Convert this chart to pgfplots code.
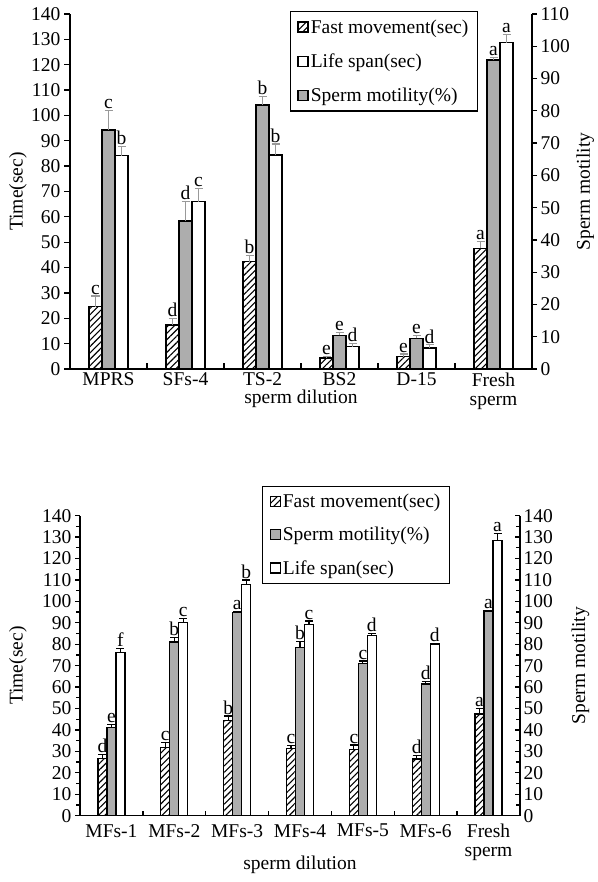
\documentclass[border=0pt]{standalone}
\usepackage{pgfplots}
\pgfplotsset{compat=1.18}
\usepackage{pgfplotstable}
\usepackage{fontspec}
\setmainfont{Liberation Serif}
\usetikzlibrary{patterns.meta}
\newcommand\fs{\fontsize{19.5bp}{19bp}\selectfont}

\pgfplotstableread{
x f fe fl m me ml l le ll
0 24.6 4.2 c 74.1 5.9 c 84.1 3.6 b
1 17.4 2.6 d 45.9 6.0 d 66.0 5.3 c
2 42.3 2.4 b 81.8 2.6 b 84.4 4.3 b
3 4.3 0.6 e 10.4 1.0 e 8.8 1.3 d
4 4.9 1.0 e 9.5 1.0 e 8.2 1.3 d
5 47.6 2.6 a 95.8 0.6 a 128.7 3.3 a
}\topdata

\pgfplotstableread{
x f fe fl m me ml l le ll
0 26.8 1.8 d 41.2 1.4 e 76.2 1.9 f
1 31.9 2.3 c 81.1 2.1 b 90.1 2.0 c
2 44.3 2.2 b 94.7 0.5 a 108.0 2.0 b
3 31.4 1.5 c 78.6 2.6 b 89.1 1.8 c
4 31.0 2.0 c 71.1 1.1 c 84.2 0.9 d
5 26.5 1.5 d 61.5 1.0 d 80.1 0.4 d
6 47.5 2.6 a 95.5 0.3 a 128.3 3.5 a
}\botdata

\tikzset{
  fastbar/.style={fill=white, draw=black, line width=1.5bp,
     postaction={pattern={Lines[angle=45,distance=4.5bp,line width=1.1bp]}}},
  motbar/.style={fill=black!32, draw=black, line width=1.5bp},
  lifebar/.style={fill=white, draw=black, line width=1.5bp},
}
\pgfplotsset{
  sq legend/.style={legend image code/.code={\draw[##1] (0bp,-5bp) rectangle (10bp,5bp);}},
  common/.style={
    scale only axis, font=\fs,
    /pgf/number format/assume math mode=true,
    tick label style={font=\fs},
    label style={font=\fs},
    axis line style={line width=1.3bp, black},
    every tick/.style={black, line width=1.3bp},
    ybar,
  },
  lab/.style={draw=none, fill=none, forget plot, nodes near coords,
    point meta=explicit symbolic,
    every node near coord/.append style={anchor=south, inner sep=1.5bp, font=\fs, black}},
}

\begin{document}
\begin{tikzpicture}[x=1bp,y=1bp]
\useasboundingbox (0,0) rectangle (598,882);

% ===== TOP PANEL =====
\begin{axis}[common,
  at={(70bp,513bp)}, anchor=south west, width=462bp, height=355bp,
  xmin=-0.5, xmax=5.5, ymin=0, ymax=140,
  axis x line*=bottom, axis y line*=left,
  ytick={0,10,...,140}, tick align=outside, major tick length=6bp,
  xtick={0,...,5},
  xticklabels={MPRS,SFs-4,TS-2,BS2,D-15,{Fresh\\sperm}},
  xticklabel style={align=center, anchor=north, yshift=6bp},
  major x tick style={draw=none},
  bar width=13bp,
  ylabel={Time(sec)},
  ylabel style={at={(axis description cs:-0.1126,0.5)}, anchor=center},
  xlabel={sperm dilution},
  xlabel style={at={(axis description cs:0.5,-0.0835)}, anchor=center},
  error bars/error bar style={gray!80, line width=1.2bp},
  error bars/error mark options={rotate=90, mark size=4bp, gray!80, line width=1.2bp},
]
\addplot[fastbar, bar shift=-13bp, error bars/.cd, y dir=plus, y explicit]
  table[x=x, y=f, y error=fe] {\topdata};
\addplot[lifebar, bar shift=13bp, error bars/.cd, y dir=plus, y explicit]
  table[x=x, y=l, y error=le] {\topdata};
\addplot[lab, bar shift=-13bp] table[x=x, y expr=\thisrow{f}+\thisrow{fe}, meta=fl] {\topdata};
\addplot[lab, bar shift=13bp] table[x=x, y expr=\thisrow{l}+\thisrow{le}, meta=ll] {\topdata};
\end{axis}

\begin{axis}[common,
  at={(70bp,513bp)}, anchor=south west, width=462bp, height=355bp,
  xmin=-0.5, xmax=5.5, ymin=0, ymax=110,
  axis x line=none, axis y line*=right,
  ytick={0,10,...,110}, tick align=outside, major tick length=5bp,
  bar width=13bp,
  ylabel={Sperm motility},
  ylabel style={at={(axis description cs:1.115,0.5)}, anchor=center, rotate=0},
  error bars/error bar style={gray!80, line width=1.2bp},
  error bars/error mark options={rotate=90, mark size=4bp, gray!80, line width=1.2bp},
  legend style={at={(0.883,1.008)}, anchor=north east, draw=black, line width=1.2bp,
    font=\fs, row sep=15bp, inner xsep=7bp, inner ysep=6bp},
  legend cell align=left,
]
\addlegendimage{fastbar, sq legend}
\addlegendentry{Fast movement(sec)}
\addlegendimage{lifebar, sq legend}
\addlegendentry{Life span(sec)}
\addplot[motbar, sq legend, bar shift=0bp, error bars/.cd, y dir=plus, y explicit]
  table[x=x, y=m, y error=me] {\topdata};
\addlegendentry{Sperm motility(\%)}
\addplot[lab, bar shift=0bp] table[x=x, y expr=\thisrow{m}+\thisrow{me}, meta=ml] {\topdata};
\end{axis}

\begin{axis}[common,
  at={(70bp,513bp)}, anchor=south west, width=462bp, height=355bp,
  xmin=-0.5, xmax=5.5, ymin=0, ymax=140,
  axis x line*=bottom, axis y line=none,
  xtick={0.5,1.5,...,4.5}, xticklabels={}, tick align=inside, major tick length=6bp,
]
\end{axis}

% ===== BOTTOM PANEL =====
\begin{axis}[common,
  at={(80bp,66.3bp)}, anchor=south west, width=440bp, height=300bp,
  xmin=-0.5, xmax=6.5, ymin=0, ymax=140,
  axis x line*=bottom, axis y line*=left,
  ytick={0,10,...,140}, minor ytick={5,15,...,135},
  tick align=outside, major tick length=5bp, minor tick length=4bp,
  xtick={0,...,6},
  xticklabels={MFs-1,MFs-2,MFs-3,MFs-4,MFs-5,MFs-6,{Fresh\\sperm}},
  xticklabel style={align=center, anchor=north, yshift=0bp},
  major x tick style={draw=none},
  bar width=9bp,
  ylabel={Time(sec)},
  ylabel style={at={(axis description cs:-0.141,0.5)}, anchor=center},
  xlabel={sperm dilution},
  xlabel style={at={(axis description cs:0.5,-0.165)}, anchor=center},
  error bars/error bar style={black, line width=1.2bp},
  error bars/error mark options={rotate=90, mark size=4bp, black, line width=1.2bp},
  legend style={at={(0.841,1.1)}, anchor=north east, draw=black, line width=1.2bp,
    font=\fs, row sep=14bp, inner xsep=7bp, inner ysep=6bp},
  legend cell align=left,
]
\addplot[fastbar, line width=1.2bp, sq legend, bar shift=-9bp, error bars/.cd, y dir=plus, y explicit]
  table[x=x, y=f, y error=fe] {\botdata};
\addlegendentry{Fast movement(sec)}
\addplot[motbar, line width=1.2bp, sq legend, bar shift=0bp, error bars/.cd, y dir=plus, y explicit]
  table[x=x, y=m, y error=me] {\botdata};
\addlegendentry{Sperm motility(\%)}
\addplot[lifebar, line width=1.2bp, sq legend, bar shift=9bp, error bars/.cd, y dir=plus, y explicit]
  table[x=x, y=l, y error=le] {\botdata};
\addlegendentry{Life span(sec)}
\addplot[lab, bar shift=-9bp] table[x=x, y expr=\thisrow{f}+\thisrow{fe}, meta=fl] {\botdata};
\addplot[lab, bar shift=0bp] table[x=x, y expr=\thisrow{m}+\thisrow{me}, meta=ml] {\botdata};
\addplot[lab, bar shift=9bp] table[x=x, y expr=\thisrow{l}+\thisrow{le}, meta=ll] {\botdata};
\end{axis}

\begin{axis}[common,
  at={(80bp,66.3bp)}, anchor=south west, width=440bp, height=300bp,
  xmin=-0.5, xmax=6.5, ymin=0, ymax=140,
  axis x line*=bottom, axis y line*=right,
  ytick={0,10,...,140}, minor ytick={5,15,...,135},
  xtick={0.5,1.5,...,5.5}, xticklabels={},
  tick align=inside, major tick length=5bp, minor tick length=4bp,
  ylabel={Sperm motility},
  ylabel style={at={(axis description cs:1.1375,0.5)}, anchor=center, rotate=0},
]
\end{axis}
\end{tikzpicture}
\end{document}
